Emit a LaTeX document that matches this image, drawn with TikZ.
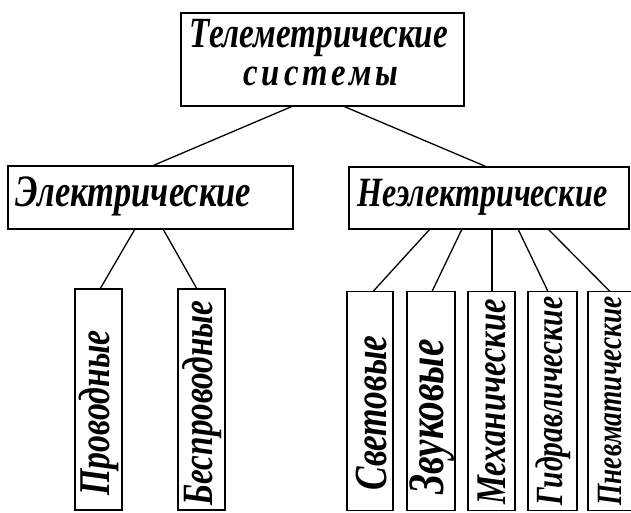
\documentclass[tikz,border=0pt]{standalone}
\usepackage{fontspec}
\setmainfont{Liberation Serif}
\newfontfamily\hand{Liberation Serif}
\newfontfamily\handsp{Liberation Serif}[LetterSpace=12]
\newcommand{\hw}[2]{\resizebox{#1pt}{!}{\scalebox{1}[1.3]{\hand\bfseries\itshape #2}}}
\newcommand{\hwsp}[2]{\resizebox{#1pt}{!}{\scalebox{1}[1.2]{\handsp\bfseries\itshape #2}}}
\begin{document}
\begin{tikzpicture}[x=1pt,y=-1pt,
  box/.style={draw,line width=1.4pt,inner sep=0pt,outer sep=0pt,minimum width=#1},
  vbox/.style={draw,line width=1.4pt,inner sep=0pt,outer sep=0pt,minimum width=#1,minimum height=219pt},
  txt/.style={inner sep=0pt},
  conn/.style={line width=1.3pt}]
\useasboundingbox (0,0) rectangle (631,512);
\node[box=283pt,minimum height=93pt] (top) at (322.5,59.5) {};
\node[txt] (t1) at (319,38) {\hw{258}{Телеметрические}};
\node[txt] (t2) at (321,76) {\hwsp{155}{системы}};
\node[box=285pt,minimum height=63pt] (el) at (150.5,197.5) {};
\node[txt,anchor=west] (elt) at (15,196) {\hw{236}{Электрические}};
\node[box=280pt,minimum height=62pt] (ne) at (489,198) {};
\node[txt,anchor=west] (net) at (357,197) {\hw{250}{Неэлектрические}};
% left leaves
\node[vbox=47pt,minimum height=221pt] (pr) at (98.5,399.5) {};
\node[txt,rotate=90] (prt) at (99,413) {\hw{165}{Проводные}};
\node[vbox=47pt,minimum height=221pt] (bp) at (201.5,399.5) {};
\node[txt,rotate=90] (bpt) at (202,403) {\hw{205}{Беспроводные}};
% right leaves
\node[vbox=46pt] (sv) at (370,401) {};
\node[txt,rotate=90] (svt) at (371,413) {\hw{155}{Световые}};
\node[vbox=48pt] (zv) at (431,401) {};
\node[txt,rotate=90] (zvt) at (432,417) {\hw{155}{Звуковые}};
\node[vbox=47pt] (me) at (491.5,401) {};
\node[txt,rotate=90] (met) at (492,402) {\hw{205}{Механические}};
\node[vbox=49pt] (gi) at (552.5,401) {};
\node[txt,rotate=90] (git) at (553,401) {\hw{209}{Гидравлические}};
\node[vbox=46pt] (pn) at (611,401) {};
\node[txt,rotate=90] (pnt) at (610,401) {\hw{209}{Пневматические}};
% connectors
\draw[conn] ([xshift=-29.5pt]top.south) -- ([xshift=1.5pt]el.north);
\draw[conn] ([xshift=20.5pt]top.south) -- ([xshift=-2pt]ne.north);
\draw[conn] ([xshift=-15.5pt]el.south) -- ([xshift=1.5pt]pr.north);
\draw[conn] ([xshift=12.5pt]el.south) -- ([xshift=-4.5pt]bp.north);
\draw[conn] ([xshift=-59pt]ne.south) -- ([xshift=3pt]sv.north);
\draw[conn] ([xshift=-27pt]ne.south) -- ([xshift=1pt]zv.north);
\draw[conn] ([xshift=3pt]ne.south) -- ([xshift=0.5pt]me.north);
\draw[conn] ([xshift=29pt]ne.south) -- ([xshift=-4.5pt]gi.north);
\draw[conn] ([xshift=59pt]ne.south) -- ([xshift=-1pt]pn.north);
\end{tikzpicture}
\end{document}
